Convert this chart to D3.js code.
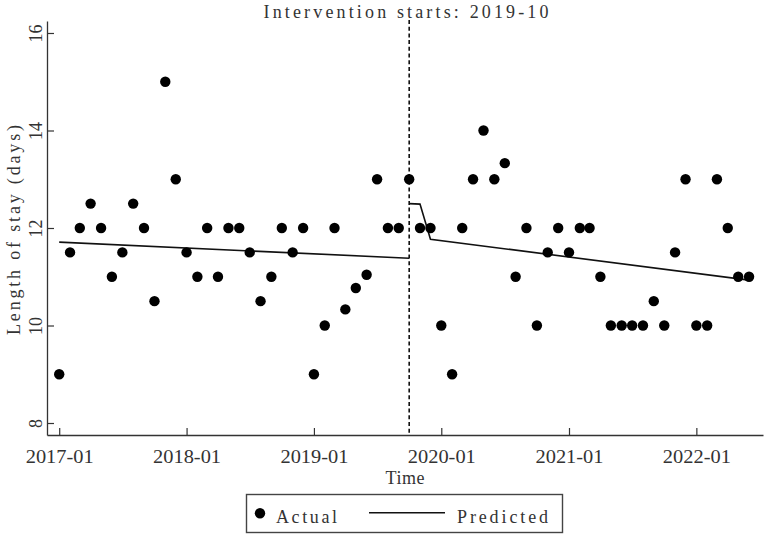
<!DOCTYPE html>
<html>
<head>
<meta charset="utf-8">
<script src="https://cdn.jsdelivr.net/npm/d3@7"></script>
<style>
  html, body { margin: 0; padding: 0; background: #fff; }
  svg { display: block; }
  text { font-family: "Liberation Serif", "DejaVu Serif", serif; fill: #333; }
</style>
</head>
<body>
<svg id="chart" width="767" height="536"></svg>
<script>
// ---- data ----
const months = [
  "2017-01","2017-02","2017-03","2017-04","2017-05","2017-06","2017-07","2017-08","2017-09","2017-10","2017-11","2017-12",
  "2018-01","2018-02","2018-03","2018-04","2018-05","2018-06","2018-07","2018-08","2018-09","2018-10","2018-11","2018-12",
  "2019-01","2019-02","2019-03","2019-04","2019-05","2019-06","2019-07","2019-08","2019-09","2019-10","2019-11","2019-12",
  "2020-01","2020-02","2020-03","2020-04","2020-05","2020-06","2020-07","2020-08","2020-09","2020-10","2020-11","2020-12",
  "2021-01","2021-02","2021-03","2021-04","2021-05","2021-06","2021-07","2021-08","2021-09","2021-10","2021-11","2021-12",
  "2022-01","2022-02","2022-03","2022-04","2022-05","2022-06"
];
const actual = [
  9, 11.5, 12, 12.5, 12, 11, 11.5, 12.5, 12, 10.5, 15, 13,
  11.5, 11, 12, 11, 12, 12, 11.5, 10.5, 11, 12, 11.5, 12,
  9, 10, 12, 10.33, 10.77, 11.04, 13, 12, 12, 13, 12, 12,
  10, 9, 12, 13, 14, 13, 13.33, 11, 12, 10, 11.5, 12,
  11.5, 12, 12, 11, 10, 10, 10, 10, 10.5, 10, 11.5, 13,
  10, 10, 13, 12, 11, 11
];
const predPreMonths = ["2017-01", "2019-10"];
const predPre = [11.71, 11.38];
const predPostMonths = ["2019-10", "2019-11", "2019-12", "2022-06"];
const predPost = [12.5, 12.49, 11.77, 10.93];
const interventionMonth = "2019-10";
const yTicks = [8, 10, 12, 14, 16];
const xTickLabels = ["2017-01", "2018-01", "2019-01", "2020-01", "2021-01", "2022-01"];
const titleText = "Intervention starts: 2019-10";
const xLabel = "Time";
const yLabel = "Length of stay (days)";
const legendLabels = ["Actual", "Predicted"];

// ---- chart ----
const parse = d3.timeParse("%Y-%m");
const svg = d3.select("#chart");
const mLeft = 47, mRight = 763, mTop = 21, mBottom = 435;

const x = d3.scaleTime()
  .domain([parse("2016-11").getTime() + 26 * 864e5, parse("2022-07").getTime() + 10 * 864e5].map(d => new Date(d)))
  .range([mLeft, mRight]);
const y = d3.scaleLinear().domain([7.754, 16.246]).range([mBottom, mTop]);

// axes
const xAxis = d3.axisBottom(x)
  .tickValues(xTickLabels.map(parse))
  .tickFormat(d3.timeFormat("%Y-%m"))
  .tickSizeInner(-7).tickSizeOuter(0).tickPadding(0);
const gx = svg.append("g").attr("transform", `translate(0,${mBottom})`).call(xAxis);
gx.select(".domain").attr("stroke", "#333").attr("stroke-width", 1.3);
gx.selectAll(".tick line").attr("stroke", "#333").attr("stroke-width", 1.2);
gx.selectAll(".tick text").attr("y", 28).attr("dy", null)
  .style("font-size", "18px").attr("fill", "#333")
  .attr("textLength", 68).attr("lengthAdjust", "spacingAndGlyphs");

const yAxis = d3.axisLeft(y).tickValues(yTicks).tickSizeInner(-7).tickSizeOuter(0).tickPadding(0);
const gy = svg.append("g").attr("transform", `translate(${mLeft},0)`).call(yAxis);
gy.select(".domain").attr("stroke", "#333").attr("stroke-width", 1.3);
gy.selectAll(".tick line").attr("stroke", "#333").attr("stroke-width", 1.2);
gy.selectAll(".tick text")
  .attr("x", null).attr("dy", null)
  .attr("text-anchor", "middle")
  .attr("transform", "translate(-5,0) rotate(-90)")
  .style("font-size", "18px").attr("fill", "#333");

// intervention line
const xi = x(parse(interventionMonth));
svg.append("line")
  .attr("x1", xi).attr("x2", xi).attr("y1", 20).attr("y2", mBottom)
  .attr("stroke", "#111").attr("stroke-width", 1.6).attr("stroke-dasharray", "4,2.7");

// predicted lines
const line = d3.line().x(d => x(parse(d[0]))).y(d => y(d[1]));
svg.append("path").datum(predPreMonths.map((m, i) => [m, predPre[i]]))
  .attr("d", line).attr("fill", "none").attr("stroke", "#111").attr("stroke-width", 1.6);
svg.append("path").datum(predPostMonths.map((m, i) => [m, predPost[i]]))
  .attr("d", line).attr("fill", "none").attr("stroke", "#111").attr("stroke-width", 1.6);

// points
svg.append("g").selectAll("circle").data(months.map((m, i) => [m, actual[i]]))
  .join("circle")
  .attr("cx", d => x(parse(d[0]))).attr("cy", d => y(d[1]))
  .attr("r", 5.2).attr("fill", "#000");

// title
svg.append("text").attr("x", 406).attr("y", 18).attr("text-anchor", "middle")
  .style("font-size", "18px").text(titleText)
  .attr("textLength", 285).attr("lengthAdjust", "spacing");

// axis labels
svg.append("text").attr("x", 405).attr("y", 484).attr("text-anchor", "middle")
  .style("font-size", "18px").text(xLabel)
  .attr("textLength", 39).attr("lengthAdjust", "spacing");
svg.append("text").attr("transform", "translate(20,230) rotate(-90)").attr("text-anchor", "middle")
  .style("font-size", "18px").text(yLabel)
  .attr("textLength", 210).attr("lengthAdjust", "spacing");

// legend
const lg = svg.append("g");
lg.append("rect").attr("x", 246.5).attr("y", 494.5).attr("width", 316).attr("height", 38)
  .attr("fill", "#fff").attr("stroke", "#444").attr("stroke-width", 1.4);
lg.append("circle").attr("cx", 260).attr("cy", 513.3).attr("r", 5.2).attr("fill", "#000");
lg.append("text").attr("x", 276).attr("y", 523).style("font-size", "18px").text(legendLabels[0])
  .attr("textLength", 61).attr("lengthAdjust", "spacing");
lg.append("line").attr("x1", 369).attr("x2", 445).attr("y1", 512.7).attr("y2", 512.7)
  .attr("stroke", "#111").attr("stroke-width", 1.6);
lg.append("text").attr("x", 457).attr("y", 523).style("font-size", "18px").text(legendLabels[1])
  .attr("textLength", 91).attr("lengthAdjust", "spacing");
</script>
</body>
</html>
